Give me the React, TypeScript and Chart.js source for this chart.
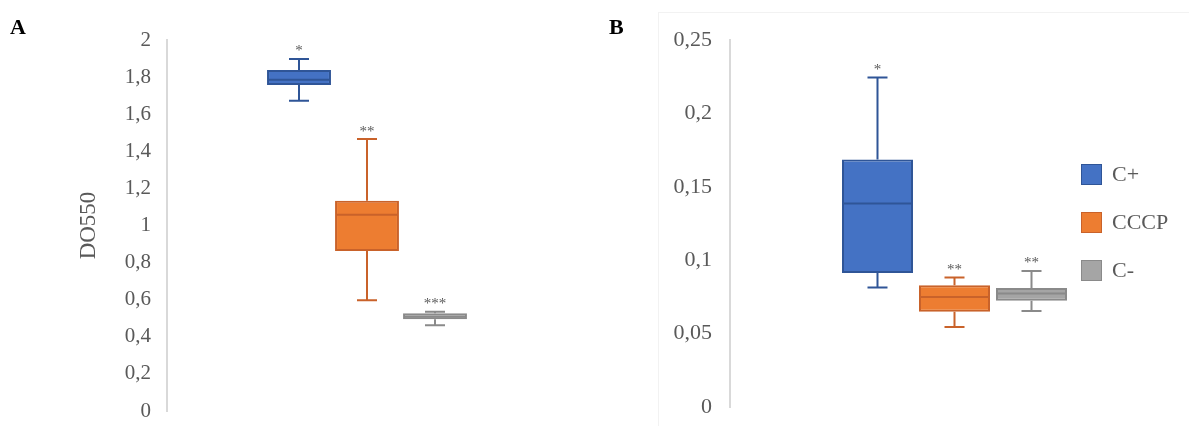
import React, { useEffect, useRef } from 'react';
import { Chart, registerables } from 'chart.js';

Chart.register(...registerables);

// ---------- data ----------
const categories = ['C+', 'CCCP', 'C-'];

// Panel A (DO550)
const aMin = [1.673, 0.597, 0.462];
const aQ1 = [1.757, 0.863, 0.494];
const aMedian = [1.786, 1.058, 0.508];
const aQ3 = [1.838, 1.134, 0.527];
const aMax = [1.898, 1.466, 0.535];
const aSignif = ['*', '**', '***'];
const aTickMin = 0;
const aTickMax = 2;
const aTickStep = 0.2;
const aAxisTitle = 'DO550';

// Panel B
const bMin = [0.0814, 0.0545, 0.0654];
const bQ1 = [0.0913, 0.0648, 0.0723];
const bMedian = [0.1387, 0.075, 0.0773];
const bQ3 = [0.1686, 0.083, 0.0811];
const bMax = [0.2245, 0.0882, 0.0927];
const bSignif = ['*', '**', '**'];
const bTickMin = 0;
const bTickMax = 0.25;
const bTickStep = 0.05;

const panelLabels = ['A', 'B'];

// ---------- styles ----------
const fillColors = ['#4472C4', '#ED7D31', '#A5A5A5'];
const lineColors = ['#2F5597', '#C9622A', '#8A8A8A'];
const SERIF = '"Liberation Serif", "Times New Roman", serif';
const TEXT_GRAY = '#595959';

const fmt = (v: number) => String(Math.round(v * 1000) / 1000).replace('.', ',');

type BoxSet = {
  min: number[];
  q1: number[];
  median: number[];
  q3: number[];
  max: number[];
  signif: string[];
};

function boxPlugin(box: BoxSet) {
  return {
    id: 'boxExtras',
    afterDatasetsDraw(chart: any) {
      const ctx = chart.ctx as CanvasRenderingContext2D;
      const ys = chart.scales.y;
      chart.data.datasets.forEach((_ds: any, i: number) => {
        const meta = chart.getDatasetMeta(i);
        const bar = meta.data[0];
        if (!bar) return;
        const { x, width } = bar.getProps(['x', 'width'], true);
        const half = width / 2;
        const pMed = ys.getPixelForValue(box.median[i]);
        const pQ1 = ys.getPixelForValue(box.q1[i]);
        const pQ3 = ys.getPixelForValue(box.q3[i]);
        const pMin = ys.getPixelForValue(box.min[i]);
        const pMax = ys.getPixelForValue(box.max[i]);
        const cap = 10;
        ctx.save();
        ctx.strokeStyle = lineColors[i];
        ctx.lineWidth = 2;
        ctx.lineCap = 'butt';
        ctx.beginPath();
        // median
        ctx.moveTo(x - half + 1, pMed);
        ctx.lineTo(x + half - 1, pMed);
        // upper whisker
        ctx.moveTo(x, pQ3);
        ctx.lineTo(x, pMax);
        ctx.moveTo(x - cap, pMax);
        ctx.lineTo(x + cap, pMax);
        // lower whisker
        ctx.moveTo(x, pQ1);
        ctx.lineTo(x, pMin);
        ctx.moveTo(x - cap, pMin);
        ctx.lineTo(x + cap, pMin);
        ctx.stroke();
        // significance marks
        ctx.fillStyle = TEXT_GRAY;
        ctx.font = '15px ' + SERIF;
        ctx.textAlign = 'center';
        ctx.textBaseline = 'alphabetic';
        ctx.fillText(box.signif[i], x, pMax - 3.5);
        ctx.restore();
      });
    },
  };
}

function makeConfig(
  box: BoxSet,
  opts: {
    min: number;
    max: number;
    step: number;
    tickFont: number;
    tickPad: number;
    axisWidth: number;
    padding: { top: number; bottom: number; left: number; right: number };
    catPct: number;
    barPct: number;
    title?: string;
  }
): any {
  return {
    type: 'bar',
    data: {
      labels: [''],
      datasets: categories.map((c, i) => ({
        label: c,
        data: [[box.q1[i], box.q3[i]]],
        backgroundColor: fillColors[i],
        borderColor: lineColors[i],
        borderWidth: 2,
        borderSkipped: false,
        categoryPercentage: opts.catPct,
        barPercentage: opts.barPct,
      })),
    },
    options: {
      responsive: false,
      animation: false,
      devicePixelRatio: 1,
      layout: { padding: opts.padding },
      plugins: { legend: { display: false }, tooltip: { enabled: false } },
      scales: {
        x: { type: 'category', display: false },
        y: {
          type: 'linear',
          min: opts.min,
          max: opts.max,
          grid: { display: false, drawTicks: false },
          border: { display: true, color: '#D9D9D9', width: 2 },
          ticks: {
            stepSize: opts.step,
            padding: opts.tickPad,
            color: TEXT_GRAY,
            font: { family: SERIF, size: opts.tickFont },
            callback: (v: number) => fmt(v),
          },
          title: opts.title
            ? {
                display: true,
                text: opts.title,
                color: TEXT_GRAY,
                font: { family: SERIF, size: 23 },
                padding: { top: 75, bottom: 0 },
              }
            : { display: false },
          afterFit: (scale: any) => {
            scale.width = opts.axisWidth;
            scale.paddingTop = 0;
            scale.paddingBottom = 0;
          },
        },
      },
    },
    plugins: [boxPlugin(box)],
  };
}

function BoxChart({ cfg, width, height }: { cfg: any; width: number; height: number }) {
  const ref = useRef<HTMLCanvasElement>(null);
  useEffect(() => {
    if (!ref.current) return;
    const chart = new Chart(ref.current, cfg);
    return () => chart.destroy();
  }, [cfg]);
  return <canvas ref={ref} width={width} height={height} style={{ width, height, display: 'block' }} />;
}

const cfgA = makeConfig(
  { min: aMin, q1: aQ1, median: aMedian, q3: aQ3, max: aMax, signif: aSignif },
  {
    min: aTickMin,
    max: aTickMax,
    step: aTickStep,
    tickFont: 21,
    tickPad: 16,
    axisWidth: 167,
    padding: { top: 40, bottom: 15, left: 0, right: 33 },
    catPct: 0.51,
    barPct: 0.94,
    title: aAxisTitle,
  }
);

const cfgB = makeConfig(
  { min: bMin, q1: bQ1, median: bMedian, q3: bQ3, max: bMax, signif: bSignif },
  {
    min: bTickMin,
    max: bTickMax,
    step: bTickStep,
    tickFont: 22,
    tickPad: 18,
    axisWidth: 130,
    padding: { top: 40, bottom: 19, left: 0, right: 10 },
    catPct: 0.5145,
    barPct: 0.922,
  }
);

const legendRowsY = [174, 222, 270];

export default function App() {
  return (
    <div style={{ position: 'fixed', left: 0, top: 0, width: 1189, height: 426, background: '#fff', overflow: 'hidden' }}>
      <div style={{ position: 'absolute', left: 0, top: 0 }}>
        <BoxChart cfg={cfgA} width={600} height={426} />
      </div>
      <div
        style={{
          position: 'absolute',
          left: 658,
          top: 12,
          width: 540,
          height: 430,
          border: '1px solid #F2F2F2',
          boxSizing: 'border-box',
        }}
      />
      <div style={{ position: 'absolute', left: 600, top: 0 }}>
        <BoxChart cfg={cfgB} width={589} height={426} />
      </div>
      {panelLabels.map((p, i) => (
        <div
          key={p}
          style={{
            position: 'absolute',
            left: i === 0 ? 10 : 609,
            top: 16,
            fontFamily: SERIF,
            fontWeight: 'bold',
            fontSize: 22,
            lineHeight: 1,
            color: '#000',
          }}
        >
          {p}
        </div>
      ))}
      {categories.map((c, i) => (
        <div
          key={c}
          style={{
            position: 'absolute',
            left: 1081,
            top: legendRowsY[i] - 11,
            height: 22,
            display: 'flex',
            alignItems: 'center',
          }}
        >
          <div
            style={{
              width: 21,
              height: 21,
              background: fillColors[i],
              border: '1px solid ' + lineColors[i],
              boxSizing: 'border-box',
            }}
          />
          <span
            style={{
              marginLeft: 10,
              fontFamily: SERIF,
              fontSize: 22,
              color: TEXT_GRAY,
              lineHeight: 1,
            }}
          >
            {c}
          </span>
        </div>
      ))}
    </div>
  );
}
